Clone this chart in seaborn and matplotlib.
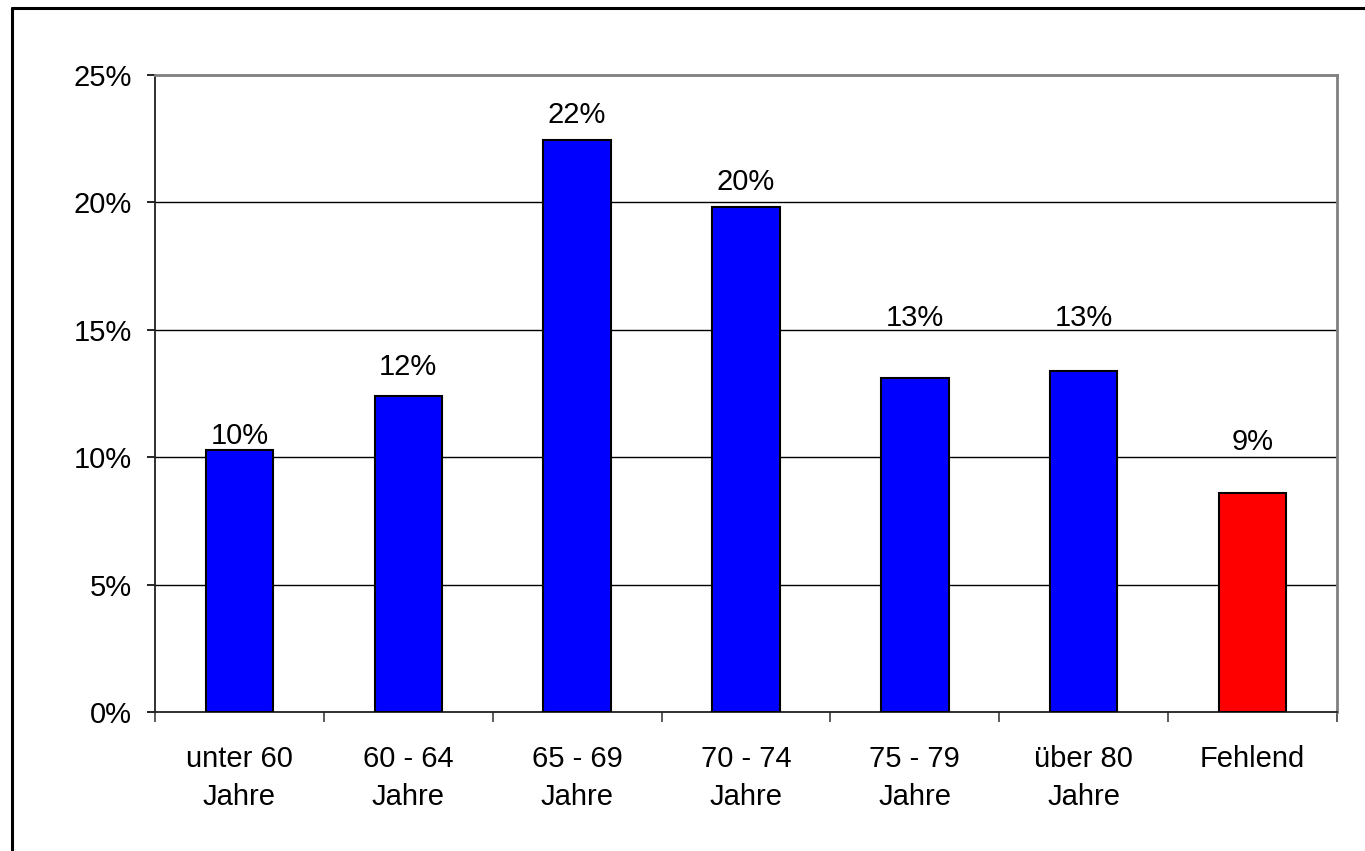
import matplotlib
matplotlib.use("Agg")
import matplotlib.pyplot as plt
from matplotlib.lines import Line2D
from matplotlib.ticker import FixedLocator, FuncFormatter
import seaborn as sns

# Altersgruppen und Anteile (in %)
categories = ["unter 60\nJahre", "60 - 64\nJahre", "65 - 69\nJahre", "70 - 74\nJahre",
              "75 - 79\nJahre", "über 80\nJahre", "Fehlend"]
shares = [10.3, 12.4, 22.46, 19.8, 13.1, 13.4, 8.6]
bar_colors = ["#0000FF"] * 6 + ["#FF0000"]
yticks = [0, 5, 10, 15, 20, 25]

# vertical placement of the value labels (data units)
label_y = [10.83, 13.54, 23.43, 20.8, 15.46, 15.46, 10.6]

sns.set_theme(style="white")
plt.rcParams["font.family"] = ["Liberation Sans", "DejaVu Sans"]

W, H = 1365, 851
fig = plt.figure(figsize=(W / 100, H / 100), dpi=100)
fig.patch.set_facecolor("white")
ax = fig.add_axes([155 / W, (H - 712) / H, (1337 - 155) / W, (712 - 75) / H])

sns.barplot(x=categories, y=shares, hue=categories, palette=bar_colors, legend=False,
            width=0.4, edgecolor="black", linewidth=1.5, saturation=1, ax=ax, zorder=3)

ax.set_xlim(-0.5, len(categories) - 0.5)
ax.set_ylim(0, 25)
ax.set_xlabel("")
ax.set_ylabel("")

# gridlines
ax.yaxis.set_major_locator(FixedLocator(yticks))
ax.yaxis.set_major_formatter(FuncFormatter(lambda v, p: f"{v:.0f}%"))
for t in yticks[1:-1]:
    ax.axhline(t, color="black", lw=1.0, zorder=1)

# spines
for side in ("top", "right"):
    ax.spines[side].set_color("#808080")
    ax.spines[side].set_linewidth(2)
for side in ("left", "bottom"):
    ax.spines[side].set_color("#202020")
    ax.spines[side].set_linewidth(1.3)

# ticks
ax.tick_params(axis="y", which="major", left=True, length=5.8, width=1.2, color="black",
               pad=11, labelsize=21, labelcolor="black")
ax.set_xticks(range(len(categories)))
ax.set_xticklabels(categories, fontsize=21, color="black", linespacing=1.45)
ax.xaxis.set_minor_locator(FixedLocator([i - 0.5 for i in range(len(categories) + 1)]))
ax.tick_params(axis="x", which="major", bottom=False, length=0, pad=24)
ax.tick_params(axis="x", which="minor", bottom=True, length=7.5, width=1.2, color="#404040")

# value labels
for i, v in enumerate(shares):
    ax.text(i, label_y[i], f"{v:.0f}%", ha="center", va="center", fontsize=21, color="black")

# outer frame
fig.add_artist(Line2D([12 / W, 1], [1 - 8 / H, 1 - 8 / H], transform=fig.transFigure,
                      color="black", lw=2.2))
fig.add_artist(Line2D([12 / W, 12 / W], [0, 1 - 8 / H], transform=fig.transFigure,
                      color="black", lw=2.2))

fig.savefig("out.png", dpi=100, facecolor="white")
